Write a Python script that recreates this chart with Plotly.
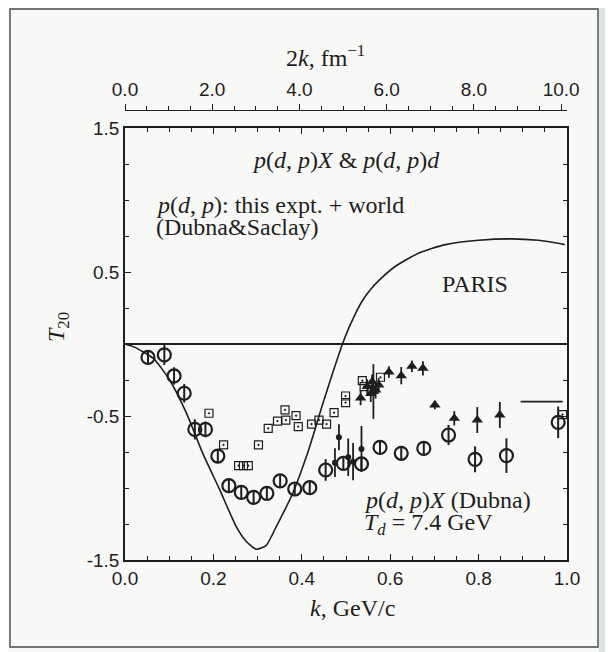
import plotly.graph_objects as go

# ---------------- data ----------------
# p(d,p)X Dubna, Td = 7.4 GeV (open circles)
circ_k = [0.052, 0.089, 0.111, 0.134, 0.158, 0.182, 0.210, 0.235, 0.263, 0.291, 0.321, 0.351,
          0.384, 0.418, 0.454, 0.494, 0.535, 0.577, 0.625, 0.676, 0.732, 0.792, 0.863, 0.980]
circ_t = [-0.093, -0.076, -0.222, -0.342, -0.593, -0.593, -0.778, -0.984, -1.030, -1.065, -1.037, -0.951,
          -1.007, -0.998, -0.875, -0.829, -0.833, -0.718, -0.759, -0.725, -0.632, -0.801, -0.775, -0.544]
circ_e = [0.05, 0.07, 0.06, 0.065, 0.07, 0.055, 0.05, 0.04, 0.04, 0.04, 0.04, 0.04,
          0.04, 0.04, 0.075, 0.05, 0.05, 0.04, 0.05, 0.05, 0.07, 0.09, 0.12, 0.11]

# p(d,p) world data (small open squares)
sq_k = [0.190, 0.223, 0.257, 0.268, 0.279, 0.302, 0.324, 0.345, 0.362, 0.364, 0.387, 0.392,
        0.422, 0.439, 0.456, 0.473, 0.499, 0.499, 0.537, 0.541, 0.578, 0.990]
sq_t = [-0.481, -0.701, -0.845, -0.845, -0.845, -0.701, -0.586, -0.535, -0.458, -0.528, -0.498, -0.574,
        -0.556, -0.528, -0.556, -0.477, -0.361, -0.407, -0.255, -0.296, -0.231, -0.49]

# p(d,p) this experiment (filled triangles)
tri_k = [0.533, 0.548, 0.556, 0.559, 0.562, 0.567, 0.574, 0.597, 0.625, 0.649, 0.674, 0.701, 0.745, 0.797, 0.848]
tri_t = [-0.375, -0.296, -0.343, -0.262, -0.330, -0.319, -0.285, -0.195, -0.220, -0.155, -0.169, -0.424, -0.516, -0.528, -0.493]
tri_e = [0.05, 0.05, 0.06, 0.05, 0.19, 0.06, 0.05, 0.04, 0.06, 0.04, 0.05, 0.03, 0.05, 0.09, 0.09]

# small filled dots
dot_k = [0.475, 0.484, 0.505, 0.516, 0.535]
dot_t = [-0.824, -0.648, -0.787, -0.817, -0.729]
dot_e = [0.10, 0.09, 0.13, 0.13, 0.16]

# PARIS potential curve
paris_k = [0.0, 0.02, 0.064, 0.101, 0.139, 0.176, 0.214, 0.252, 0.274, 0.297, 0.319, 0.342, 0.379,
           0.415, 0.448, 0.470, 0.492, 0.507, 0.522, 0.537, 0.556, 0.574, 0.612, 0.664, 0.725, 0.80,
           0.875, 0.935, 0.98, 0.995]
paris_t = [0.0, -0.02, -0.10, -0.25, -0.48, -0.76, -1.01, -1.27, -1.37, -1.425, -1.40, -1.27, -1.04,
           -0.74, -0.41, -0.20, 0.0, 0.115, 0.215, 0.30, 0.38, 0.44, 0.54, 0.63, 0.69, 0.72,
           0.73, 0.72, 0.70, 0.69]

# horizontal marker segment at right
seg_k = [0.895, 0.99]
seg_t = [-0.40, -0.40]

bottom_ticks = [0.0, 0.2, 0.4, 0.6, 0.8, 1.0]
top_ticks = [0.0, 2.0, 4.0, 6.0, 8.0, 10.0]
left_ticks = [1.5, 0.5, -0.5, -1.5]

# ---------------- layout geometry (page pixels) ----------------
PAGE_W, PAGE_H = 613, 652
OFF = 8                  # browser body margin
W, H = PAGE_W - OFF, PAGE_H - OFF
L, R = 125, 567          # plot box x (page)
TOPM = 105               # top of paper area (page)
YT, YB = 128, 560        # plot box y (page)
PW = R - L
PH = YB - TOPM


def px(x):
    return (x - L) / PW


def py(y):
    return (YB - y) / PH


SERIF = "Liberation Serif, Times New Roman, serif"
SANS = "Liberation Sans, Arial, Helvetica, sans-serif"
INK = "#1e1e1e"

fig = go.Figure()

fig.add_trace(go.Scatter(x=paris_k, y=paris_t, mode="lines",
                         line=dict(color=INK, width=1.6, shape="spline", smoothing=0.6),
                         hoverinfo="skip"))
fig.add_trace(go.Scatter(x=seg_k, y=seg_t, mode="lines", line=dict(color=INK, width=1.8)))

fig.add_trace(go.Scatter(x=sq_k, y=sq_t, mode="markers",
                         marker=dict(symbol="square-open-dot", size=8, color=INK, line=dict(width=1.2))))

fig.add_trace(go.Scatter(x=dot_k, y=dot_t, mode="markers",
                         error_y=dict(type="data", array=dot_e, color=INK, thickness=1.8, width=0),
                         marker=dict(symbol="circle", size=6, color=INK)))

fig.add_trace(go.Scatter(x=tri_k, y=tri_t, mode="markers",
                         error_y=dict(type="data", array=tri_e, color=INK, thickness=1.8, width=0),
                         marker=dict(symbol="triangle-up", size=10, color=INK)))

fig.add_trace(go.Scatter(x=circ_k, y=circ_t, mode="markers",
                         error_y=dict(type="data", array=circ_e, color=INK, thickness=2, width=0),
                         marker=dict(symbol="circle-open", size=13, color=INK, line=dict(width=2.2))))

# invisible trace to activate top axis
fig.add_trace(go.Scatter(x=[0, 10.135], y=[0, 0], xaxis="x2", mode="markers",
                         marker=dict(opacity=0), hoverinfo="skip"))

ydom_top = py(YT)

fig.update_layout(
    width=W, height=H,
    margin=dict(l=L - OFF, r=PAGE_W - R, t=TOPM - OFF, b=PAGE_H - YB),
    paper_bgcolor="#f8f8f6", plot_bgcolor="#f8f8f6",
    showlegend=False,
    xaxis=dict(domain=[0, 1], range=[0, 1.0], anchor="y", side="bottom",
               tickmode="array", tickvals=bottom_ticks, ticktext=[f"{v:.1f}" for v in bottom_ticks],
               ticks="inside", ticklen=6, tickwidth=1.4, tickcolor=INK,
               minor=dict(dtick=0.05, tick0=0, ticks="inside", ticklen=4, tickwidth=1.2, tickcolor=INK),
               showline=True, linecolor=INK, linewidth=1.6, mirror="ticks",
               showgrid=False, zeroline=False,
               tickfont=dict(family=SANS, size=19, color=INK)),
    xaxis2=dict(range=[0, 10.135], overlaying="x", anchor="free", position=py(110), side="top",
                tickmode="array", tickvals=top_ticks, ticktext=[f"{v:.1f}" for v in top_ticks],
                ticks="outside", ticklen=6, tickwidth=1.4, tickcolor=INK,
                minor=dict(dtick=0.5, tick0=0, ticks="outside", ticklen=4, tickwidth=1.2, tickcolor=INK),
                showline=True, linecolor=INK, linewidth=1.4,
                showgrid=False, zeroline=False,
                tickfont=dict(family=SANS, size=19, color=INK)),
    yaxis=dict(domain=[0, ydom_top], range=[-1.5, 1.5],
               tickmode="array", tickvals=left_ticks, ticktext=[f"{v:.1f}" for v in left_ticks],
               ticks="inside", ticklen=6, tickwidth=1.4, tickcolor=INK,
               minor=dict(dtick=0.25, tick0=0, ticks="inside", ticklen=4, tickwidth=1.2, tickcolor=INK),
               showline=True, linecolor=INK, linewidth=1.6, mirror="ticks",
               showgrid=False, zeroline=True, zerolinecolor=INK, zerolinewidth=1.5,
               tickfont=dict(family=SANS, size=19, color=INK)),
)

# outer frame and scanned page edge
fig.add_shape(type="rect", xref="paper", yref="paper",
              x0=px(599), x1=px(613), y0=py(652), y1=py(8),
              fillcolor="#dde2e5", line=dict(width=0), layer="below")
fig.add_shape(type="rect", xref="paper", yref="paper",
              x0=px(10), x1=px(598), y0=py(647), y1=py(9),
              line=dict(color="#4a4a4a", width=1.4), layer="below")


def ann(text, x, y, size=24, xanchor="left", angle=0, family=SERIF):
    fig.add_annotation(text=text, x=px(x), y=py(y), xref="paper", yref="paper",
                       xanchor=xanchor, yanchor="middle", showarrow=False, textangle=angle,
                       font=dict(family=family, size=size, color=INK), align="left")


ann("2<i>k</i>, fm<sup>−1</sup>", 325, 56, size=24, xanchor="center")
ann("<i>k</i>, GeV/c", 352, 608, size=24, xanchor="center")
ann("<i>T</i><sub>20</sub>", 58, 327, size=24, xanchor="center", angle=-90)
ann("<i>p</i>(<i>d</i>, <i>p</i>)<i>X</i> &amp; <i>p</i>(<i>d</i>, <i>p</i>)<i>d</i>", 250, 160)
ann("<i>p</i>(<i>d</i>, <i>p</i>): this expt. + world", 154, 205)
ann("(Dubna&amp;Saclay)", 154, 227)
ann("PARIS", 475, 284, size=24, xanchor="center")
ann("<i>p</i>(<i>d</i>, <i>p</i>)<i>X</i> (Dubna)", 362, 500)
ann("<i>T</i><sub><i>d</i></sub> = 7.4 GeV", 362, 524)

fig.write_html("out.html")
